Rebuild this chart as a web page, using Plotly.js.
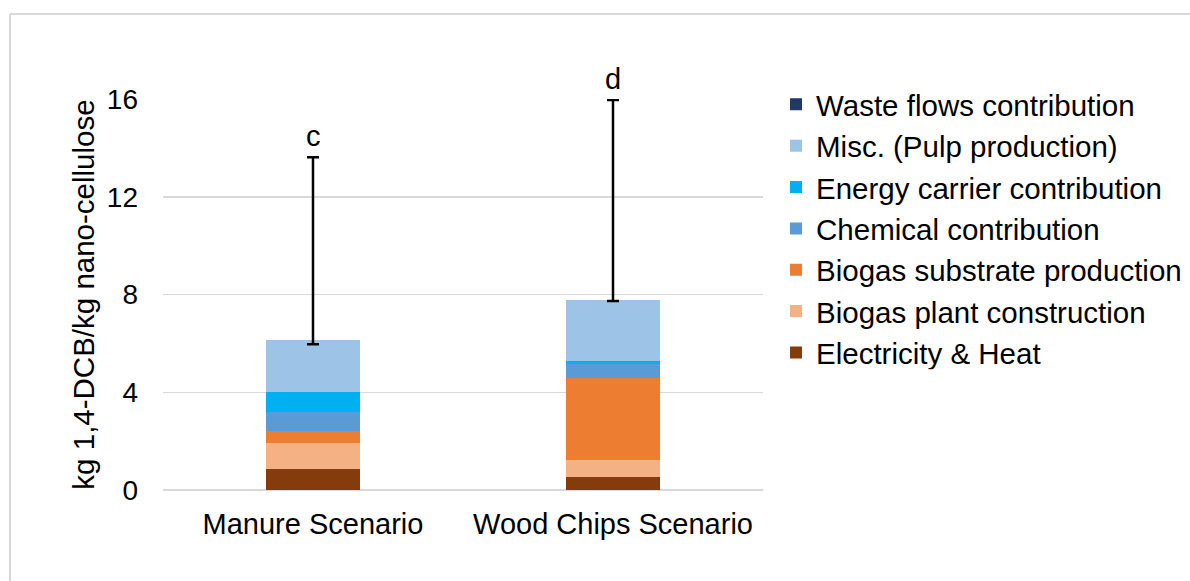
<!DOCTYPE html>
<html>
<head>
<meta charset="utf-8">
<script src="https://cdn.plot.ly/plotly-3.0.1.min.js"></script>
<style>
  html, body { margin: 0; padding: 0; background: #fff; }
  #chart { width: 1190px; height: 581px; }
</style>
</head>
<body>
<div id="chart"></div>
<script>
const categories = ["Manure Scenario", "Wood Chips Scenario"];
const seriesNames = [
  "Electricity & Heat",
  "Biogas plant construction",
  "Biogas substrate production",
  "Chemical contribution",
  "Energy carrier contribution",
  "Misc. (Pulp production)",
  "Waste flows contribution"
];
const electricityHeat = [0.85, 0.55];
const plantConstruction = [1.07, 0.68];
const substrateProduction = [0.48, 3.34];
const chemicalContribution = [0.78, 0.57];
const energyCarrier = [0.82, 0.14];
const miscPulp = [2.14, 2.49];
const wasteFlows = [0.0, 0.0];
const errorBase = [5.96, 7.73];
const errorPlus = [7.66, 8.23];
const significanceLetters = ["c", "d"];
const yTicks = [0, 4, 8, 12, 16];

const colors = ["#843c0c", "#f4b183", "#ed7d31", "#5b9bd5", "#00b0f0", "#9dc3e6", "#203864"];
const values = [electricityHeat, plantConstruction, substrateProduction, chemicalContribution, energyCarrier, miscPulp, wasteFlows];

const FONT = "Liberation Sans, Arial, sans-serif";

const traces = values.map((v, i) => ({
  type: "bar",
  name: seriesNames[i],
  x: categories,
  y: v,
  marker: { color: colors[i] },
  hoverinfo: "skip"
}));

traces.push({
  type: "scatter",
  mode: "markers",
  x: categories,
  y: errorBase,
  marker: { size: 1, opacity: 0 },
  showlegend: false,
  hoverinfo: "skip",
  error_y: {
    type: "data",
    symmetric: false,
    array: errorPlus,
    arrayminus: [0, 0],
    color: "#000000",
    thickness: 2.5,
    width: 6
  }
});

const annotations = categories.map((c, i) => ({
  x: c,
  y: errorBase[i] + errorPlus[i],
  xref: "x",
  yref: "y",
  text: significanceLetters[i],
  showarrow: false,
  yanchor: "bottom",
  yshift: 3,
  font: { family: FONT, size: 29, color: "#000" }
}));

const layout = {
  width: 1190,
  height: 581,
  paper_bgcolor: "#ffffff",
  plot_bgcolor: "#ffffff",
  barmode: "stack",
  bargap: 0.687,
  margin: { l: 163, r: 427, t: 99, b: 91, autoexpand: false },
  font: { family: FONT, size: 28, color: "#000" },
  xaxis: {
    type: "category",
    range: [-0.5, 1.5],
    showgrid: false,
    showline: false,
    ticks: "",
    ticklabelstandoff: 14,
    tickfont: { family: FONT, size: 29, color: "#000" },
    fixedrange: true
  },
  yaxis: {
    range: [0, 16],
    tickvals: yTicks,
    ticktext: yTicks.map(String),
    showgrid: true,
    gridcolor: "#d9d9d9",
    gridwidth: 1.5,
    zeroline: true,
    zerolinecolor: "#d9d9d9",
    zerolinewidth: 1.5,
    showline: false,
    ticks: "",
    ticklabelstandoff: 24,
    tickfont: { family: FONT, size: 28, color: "#000" },
    title: { text: "kg 1,4-DCB/kg nano-cellulose", font: { family: FONT, size: 29.5, color: "#000" } },
    fixedrange: true
  },
  legend: {
    x: 1.0217,
    xanchor: "left",
    y: 1.052,
    yanchor: "top",
    traceorder: "reversed",
    font: { family: FONT, size: 29.5, color: "#000" },
    bgcolor: "rgba(0,0,0,0)"
  },
  annotations: annotations,
  shapes: [
    { type: "line", xref: "paper", yref: "paper", x0: -0.255, x1: -0.255, y0: -0.3, y1: 1.2174, line: { color: "#d9d9d9", width: 2 } },
    { type: "line", xref: "paper", yref: "paper", x0: -0.255, x1: 2.0, y0: 1.2174, y1: 1.2174, line: { color: "#d9d9d9", width: 2 } }
  ],
  showlegend: true
};

Plotly.newPlot("chart", traces, layout, { displayModeBar: false, staticPlot: true });
</script>
</body>
</html>
